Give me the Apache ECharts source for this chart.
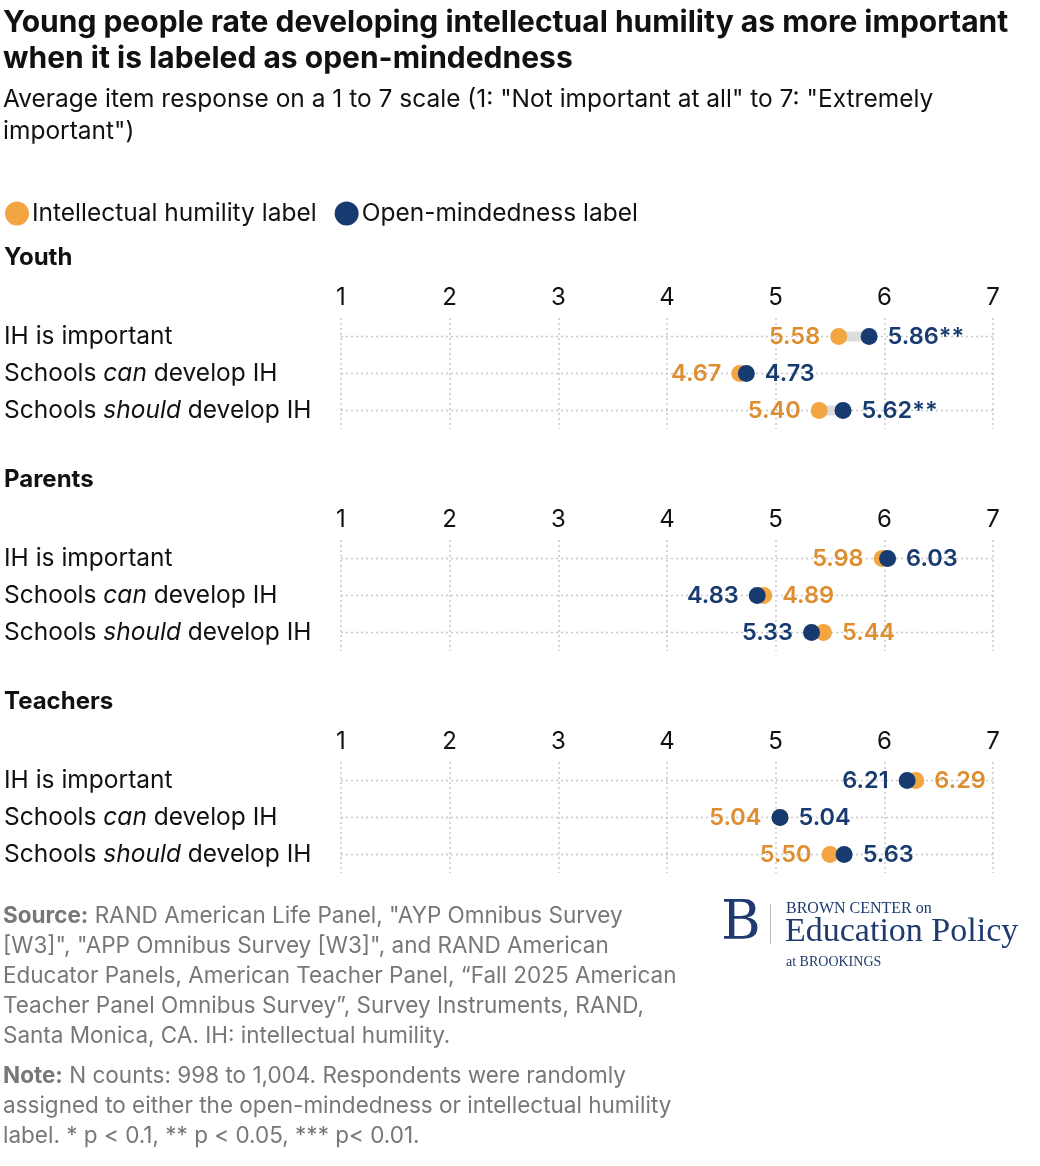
<!DOCTYPE html>
<html><head><meta charset="utf-8">
<script src="https://cdn.jsdelivr.net/npm/echarts@6/dist/echarts.min.js"></script>
<style>html,body{margin:0;background:#fff}#c{width:1040px;height:1166px}</style>
</head><body><div id="c"></div>
<script>
var groups = ['Youth', 'Parents', 'Teachers'];
var items = ['IH is important', 'Schools can develop IH', 'Schools should develop IH'];
var ihValues = [[5.58, 4.67, 5.40], [5.98, 4.89, 5.44], [6.29, 5.04, 5.50]];
var omValues = [[5.86, 4.73, 5.62], [6.03, 4.83, 5.33], [6.21, 5.04, 5.63]];
var omStars = [['**', '', '**'], ['', '', ''], ['', '', '']];
var xTicks = [1, 2, 3, 4, 5, 6, 7];

var ORANGE = '#F2A541', ORANGE_TXT = '#DE8E30', NAVY = '#173B70', FONT = 'Inter, "Noto Sans", sans-serif';
var gridTops = [318, 540, 762];

var grids = [], xAxes = [], yAxes = [], series = [], graphics = [];

function catLabel(v) {
  if (v.indexOf('can') > 0) return 'Schools {i|can} develop IH';
  if (v.indexOf('should') > 0) return 'Schools {i|should} develop IH';
  return v;
}

groups.forEach(function (g, gi) {
  grids.push({ left: 341, right: 47, top: gridTops[gi], height: 111 });
  xAxes.push({
    gridIndex: gi, type: 'value', position: 'top', min: 1, max: 7, interval: 1,
    axisLine: { show: false }, axisTick: { show: false },
    axisLabel: { color: '#111', fontSize: 24, fontFamily: FONT, margin: 8 },
    splitLine: { show: true, lineStyle: { color: '#c8c8c8', type: [2, 3], width: 1.5 } }
  });
  yAxes.push({
    gridIndex: gi, type: 'category', data: items, inverse: true,
    axisLine: { show: false }, axisTick: { show: false }, splitLine: { show: false },
    axisLabel: {
      align: 'left', margin: 337, color: '#111', fontSize: 24.5, fontFamily: FONT,
      formatter: catLabel,
      rich: { i: { fontStyle: 'italic', fontSize: 24.5, fontFamily: FONT, color: '#111' } }
    }
  });
  graphics.push({ type: 'text', left: 4, top: gridTops[gi] - 72,
    style: { text: g, font: 'bold 24px ' + FONT, fill: '#111' } });

  // row guide lines and connectors
  series.push({
    type: 'custom', xAxisIndex: gi, yAxisIndex: gi, silent: true, z: 1,
    data: items.map(function (it, i) { return [ihValues[gi][i], omValues[gi][i], i]; }),
    renderItem: function (params, api) {
      var row = api.value(2);
      var a = api.coord([1, row]), b = api.coord([7, row]);
      var p = api.coord([api.value(0), row]), q = api.coord([api.value(1), row]);
      return { type: 'group', children: [
        { type: 'line', shape: { x1: a[0], y1: a[1], x2: b[0], y2: b[1] },
          style: { stroke: '#c8c8c8', lineWidth: 1.5, lineDash: [2, 3] } },
        { type: 'line', shape: { x1: p[0], y1: p[1], x2: q[0], y2: q[1] },
          style: { stroke: '#dcdcdc', lineWidth: 10 } }
      ] };
    }
  });

  function dots(vals, other, color, txtColor, stars, name) {
    return {
      name: name, type: 'scatter', xAxisIndex: gi, yAxisIndex: gi, symbolSize: 17,
      itemStyle: { color: color, opacity: 1 }, z: name === 'om' ? 4 : 3,
      data: vals.map(function (v, i) {
        var left = v < other[i] || (v === other[i] && name === 'ih');
        return {
          value: [v, i],
          label: { show: true, position: left ? 'left' : 'right', distance: 10,
            formatter: v.toFixed(2) + (stars ? stars[i] : ''),
            color: txtColor, fontSize: 23.5, fontWeight: 600, fontFamily: FONT }
        };
      })
    };
  }
  series.push(dots(ihValues[gi], omValues[gi], ORANGE, ORANGE_TXT, null, 'ih'));
  series.push(dots(omValues[gi], ihValues[gi], NAVY, NAVY, omStars[gi], 'om'));
});

var src = ['{b|Source:} RAND American Life Panel, "AYP Omnibus Survey',
  '[W3]", "APP Omnibus Survey [W3]", and RAND American',
  'Educator Panels, American Teacher Panel, \u201cFall 2025 American',
  'Teacher Panel Omnibus Survey\u201d, Survey Instruments, RAND,',
  'Santa Monica, CA. IH: intellectual humility.'].join('\n');
var note = ['{b|Note:} N counts: 998 to 1,004. Respondents were randomly',
  'assigned to either the open-mindedness or intellectual humility',
  'label. * p < 0.1, ** p < 0.05, *** p< 0.01.'].join('\n');
var footRich = { b: { fontWeight: 'bold', fontSize: 22.5, fontFamily: FONT, fill: '#777', lineHeight: 30 } };

graphics = graphics.concat([
  { type: 'text', left: 3, top: 5, style: { text: 'Young people rate developing intellectual humility as more important\nwhen it is labeled as open-mindedness',
    font: 'bold 30px ' + FONT, fill: '#111', lineHeight: 36 } },
  { type: 'text', left: 3, top: 84, style: { text: 'Average item response on a 1 to 7 scale (1: "Not important at all" to 7: "Extremely\nimportant")',
    font: '24.5px ' + FONT, fill: '#111', lineHeight: 32 } },
  { type: 'text', left: 3, top: 901, style: { text: src, font: '22.5px ' + FONT, fill: '#777', lineHeight: 30, rich: footRich } },
  { type: 'text', left: 3, top: 1061, style: { text: note, font: '22.5px ' + FONT, fill: '#777', lineHeight: 30, rich: footRich } },
  { type: 'text', left: 721, top: 898, style: { text: 'B', font: '54px "DejaVu Serif", "Liberation Serif", serif', fill: '#1E3A6E' } },
  { type: 'rect', left: 770, top: 904, shape: { width: 1, height: 40 }, style: { fill: '#bbb' } },
  { type: 'text', left: 786, top: 901, style: { text: 'BROWN CENTER on', font: '16px "Liberation Serif", serif', fill: '#1E3A6E' } },
  { type: 'text', left: 785, top: 915, style: { text: 'Education Policy', font: '34px "Liberation Serif", serif', fill: '#1E3A6E' } },
  { type: 'text', left: 786, top: 955, style: { text: 'at BROOKINGS', font: '14px "Liberation Serif", serif', fill: '#1E3A6E' } }
]);

var chart = echarts.init(document.getElementById('c'));
chart.setOption({
  animation: false,
  legend: {
    left: 0, top: 196, itemGap: 18, itemWidth: 24, itemHeight: 24, icon: 'circle',
    textStyle: { fontSize: 24.5, fontFamily: FONT, color: '#111', padding: [0, 0, 0, -2] },
    data: [{ name: 'ih', itemStyle: { color: ORANGE } }, { name: 'om', itemStyle: { color: NAVY } }],
    formatter: function (n) { return n === 'ih' ? 'Intellectual humility label' : 'Open-mindedness label'; }
  },
  grid: grids, xAxis: xAxes, yAxis: yAxes, series: series, graphic: graphics
});
</script></body></html>
